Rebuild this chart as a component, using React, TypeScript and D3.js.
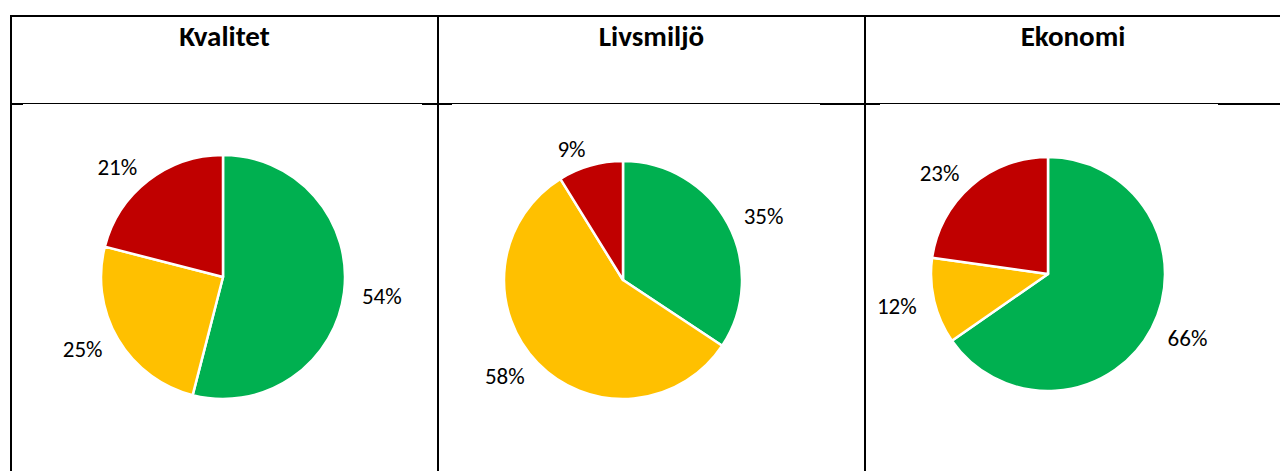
import { useEffect, useRef } from 'react';
import * as d3 from 'd3';

// Data (three pies, share in %)
const panelTitles = ['Kvalitet', 'Livsmiljö', 'Ekonomi'];
const sliceColors = ['#00B050', '#FFC000', '#C00000'];
const kvalitetValues = [54, 25, 21];
const livsmiljoValues = [35, 58, 9];
const ekonomiValues = [66, 12, 23];

const FONT = 'Carlito, Calibri, Lato, sans-serif';

export default function App() {
  const svgRef = useRef<SVGSVGElement>(null);

  useEffect(() => {
    if (!svgRef.current) return;
    const svg = d3.select(svgRef.current);
    svg.selectAll('*').remove();

    const W = 1280, H = 471;
    svg.attr('width', W).attr('height', H);

    // Table grid
    const colX = [10, 437, 864, 1292];
    const topY = 16;
    const headY = 103.5;

    svg.append('rect').attr('width', W).attr('height', H).attr('fill', '#fff');

    const lines = svg.append('g').attr('stroke', '#000');
    lines.append('line').attr('x1', colX[0]).attr('x2', W).attr('y1', topY).attr('y2', topY).attr('stroke-width', 2);
    colX.slice(0, 3).forEach(x => {
      lines.append('line').attr('x1', x + 1).attr('x2', x + 1).attr('y1', topY).attr('y2', H).attr('stroke-width', 2);
    });
    lines.append('line').attr('x1', colX[0]).attr('x2', W).attr('y1', headY).attr('y2', headY).attr('stroke-width', 1);
    // thicker pieces of the header rule
    const thick: [number, number][] = [[10, 23], [422, 452], [820, 880], [1218, 1280]];
    thick.forEach(([a, b]) => {
      lines.append('line').attr('x1', a).attr('x2', b).attr('y1', headY + 0.5).attr('y2', headY + 0.5).attr('stroke-width', 2);
    });

    const panels = [
      { title: panelTitles[0], values: kvalitetValues, cx: 223, cy: 277, r: 122 },
      { title: panelTitles[1], values: livsmiljoValues, cx: 623, cy: 280, r: 119 },
      { title: panelTitles[2], values: ekonomiValues, cx: 1048, cy: 274, r: 117 },
    ];

    panels.forEach((p, i) => {
      // header
      svg.append('text')
        .attr('x', (colX[i] + Math.min(colX[i + 1], W)) / 2 + 1)
        .attr('y', 46)
        .attr('text-anchor', 'middle')
        .style('font-family', FONT)
        .style('font-weight', 'bold')
        .style('font-size', '29px')
        .text(p.title);

      const pie = d3.pie<number>().sort(null).value(d => d);
      const arcs = pie(p.values);
      const arc = d3.arc<d3.PieArcDatum<number>>().innerRadius(0).outerRadius(p.r);

      const g = svg.append('g').attr('transform', `translate(${p.cx},${p.cy})`);
      g.selectAll('path')
        .data(arcs)
        .enter().append('path')
        .attr('d', arc)
        .attr('fill', (_, j) => sliceColors[j])
        .attr('stroke', '#fff')
        .attr('stroke-width', 2.5)
        .attr('stroke-linejoin', 'round');

      const R = p.r + 18;
      g.selectAll('text.lbl')
        .data(arcs)
        .enter().append('text')
        .attr('class', 'lbl')
        .attr('x', d => R * Math.sin((d.startAngle + d.endAngle) / 2))
        .attr('y', d => -R * Math.cos((d.startAngle + d.endAngle) / 2) + 9)
        .attr('text-anchor', d => Math.sin((d.startAngle + d.endAngle) / 2) >= 0 ? 'start' : 'end')
        .style('font-family', FONT)
        .style('font-size', '23px')
        .attr('fill', '#000')
        .text(d => `${d.data}%`);
    });
  }, []);

  return (
    <div style={{ position: 'absolute', left: 0, top: 0 }}>
      <svg ref={svgRef} style={{ display: 'block' }}></svg>
    </div>
  );
}
